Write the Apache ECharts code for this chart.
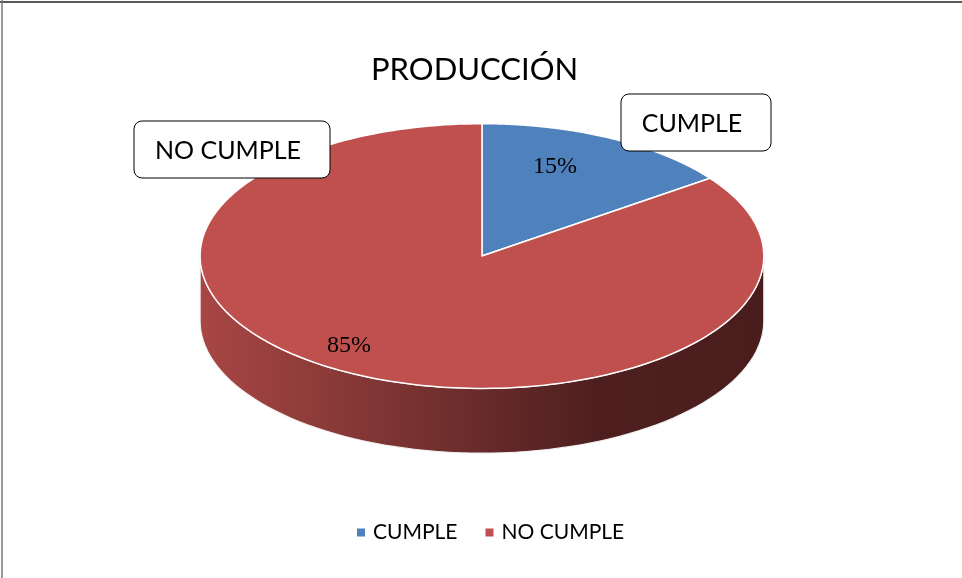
<!DOCTYPE html>
<html><head><meta charset="utf-8">
<script src="https://cdn.jsdelivr.net/npm/echarts@6/dist/echarts.min.js"></script>
<style>html,body{margin:0;padding:0;background:#fff}#c{width:962px;height:578px}</style>
</head><body><div id="c"></div>
<script>
const title = 'PRODUCCIÓN';
const categories = ['CUMPLE', 'NO CUMPLE'];
const values = [15, 85];
const colors = ['#4f81bd', '#c0504d'];

const chart = echarts.init(document.getElementById('c'));
const total = values.reduce((a, b) => a + b, 0);

function geom(api) {
  const w = api.getWidth(), h = api.getHeight();
  return { cx: w * 0.501, cy: h * 0.443, rx: w * 0.293, ry: h * 0.229, depth: h * 0.112 };
}
function pt(g, a, dy) { return [g.cx + g.rx * Math.cos(a), g.cy + g.ry * Math.sin(a) + (dy || 0)]; }

function makeRender(idx) {
  return function (params, api) {
    const g = geom(api);
    let before = 0;
    for (let i = 0; i < idx; i++) before += values[i];
    const v = api.value(0);
    const a0 = -Math.PI / 2 + before / total * 2 * Math.PI;
    const a1 = a0 + v / total * 2 * Math.PI;
    const children = [];
    const ranges = [[0, Math.PI], [2 * Math.PI, 3 * Math.PI], [-2 * Math.PI, -Math.PI]];
    ranges.forEach(r => {
      const s = Math.max(a0, r[0]), e = Math.min(a1, r[1]);
      if (e > s) {
        const pts = [];
        const n = 80;
        for (let k = 0; k <= n; k++) pts.push(pt(g, s + (e - s) * k / n));
        for (let k = n; k >= 0; k--) pts.push(pt(g, s + (e - s) * k / n, g.depth));
        children.push({
          type: 'polygon', shape: { points: pts },
          style: {
            fill: new echarts.graphic.LinearGradient(0, 0, 1, 0, idx === 1 ? [
              { offset: 0, color: '#a84644' },
              { offset: 0.2, color: '#8e3c3a' },
              { offset: 0.45, color: '#6e2e2d' },
              { offset: 0.7, color: '#4f1f1f' },
              { offset: 1, color: '#4a1d1d' }
            ] : [
              { offset: 0, color: '#3d6494' }, { offset: 1, color: '#1f3350' }
            ]),
            stroke: '#f2f2f2', lineWidth: 1.2
          }
        });
      }
    });
    const tp = [[g.cx, g.cy]];
    const n = 200;
    for (let k = 0; k <= n; k++) tp.push(pt(g, a0 + (a1 - a0) * k / n));
    children.push({
      type: 'polygon', shape: { points: tp },
      style: { fill: colors[idx], stroke: '#ffffff', lineWidth: 1.5, lineJoin: 'round' }
    });
    const am = (a0 + a1) / 2;
    const lp = [g.cx + g.rx * 0.805 * Math.cos(am) - 30, g.cy + g.ry * 0.76 * Math.sin(am)];
    children.push({
      type: 'text',
      style: {
        text: Math.round(v / total * 100) + '%',
        x: lp[0], y: lp[1], align: 'center', verticalAlign: 'middle',
        font: '24px "Liberation Serif", "Times New Roman", serif', fill: '#000'
      }
    });
    return { type: 'group', children: children };
  };
}

const series = categories.map((c, i) => ({
  type: 'custom', name: c, coordinateSystem: 'none',
  data: [[values[i]]], itemStyle: { color: colors[i] },
  renderItem: makeRender(i), silent: true, animation: false, z: 2
}));

const font = 'Lato, "Open Sans", sans-serif';

chart.setOption({
  backgroundColor: '#fff',
  animation: false,
  title: {
    text: title, left: 366, top: 49,
    textStyle: { fontFamily: font, fontSize: 31, fontWeight: 'normal', color: '#000' }
  },
  legend: {
    bottom: 30, left: 352, icon: 'rect', itemWidth: 8, itemHeight: 8, itemGap: 28,
    textStyle: { fontFamily: font, fontSize: 21, color: '#000', padding: [0, 0, 0, 3] },
    data: categories
  },
  graphic: [
    { type: 'line', shape: { x1: 0, y1: 2, x2: 962, y2: 2 }, style: { stroke: '#222', lineWidth: 1.5 }, z: 10 },
    { type: 'line', shape: { x1: 2, y1: 0, x2: 2, y2: 578 }, style: { stroke: '#777', lineWidth: 1.5 }, z: 10 },
    { type: 'rect', shape: { x: 621, y: 94, width: 150, height: 57, r: 8 }, style: { fill: '#fff', stroke: '#000', lineWidth: 1 }, z: 20 },
    { type: 'text', style: { text: categories[0], x: 692, y: 124, align: 'center', verticalAlign: 'middle', font: '25px ' + font, fill: '#000' }, z: 21 },
    { type: 'rect', shape: { x: 134, y: 121, width: 196, height: 57, r: 8 }, style: { fill: '#fff', stroke: '#000', lineWidth: 1 }, z: 20 },
    { type: 'text', style: { text: categories[1], x: 228, y: 151, align: 'center', verticalAlign: 'middle', font: '25px ' + font, fill: '#000' }, z: 21 }
  ],
  series: series
});
</script></body></html>
